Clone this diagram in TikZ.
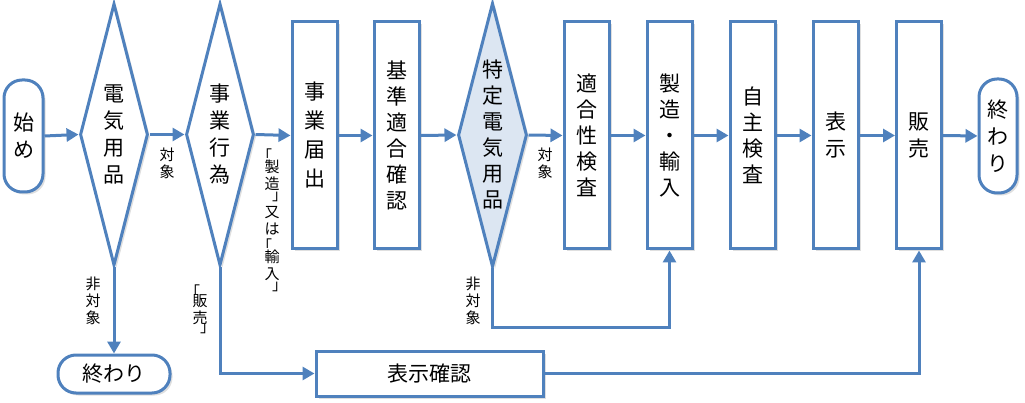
\documentclass[tikz,border=0pt]{standalone}
\usepackage{fontspec}
\usepackage{graphicx}
\setmainfont{Noto Sans CJK JP}
\usetikzlibrary{shapes.geometric,arrows.meta,shadows}
\definecolor{edge}{RGB}{79,129,189}
\definecolor{hl}{RGB}{220,230,242}
\newcommand\bro{\makebox[0pt][r]{「}}
\newcommand\brc{\makebox[0pt][l]{」}}
\newcommand\mainsz{\fontsize{21}{27}\selectfont}
\newcommand\lblsz{\fontsize{15}{17}\selectfont}
\begin{document}
\begin{tikzpicture}[x=1pt,y=-1pt,
  shd/.style={drop shadow={opacity=0.25,shadow xshift=2.5pt,shadow yshift=-2.5pt}},
  base/.style={draw=edge,line width=3pt,fill=white,shd,inner sep=0pt,align=center,font=\mainsz},
  stepbox/.style={base,rectangle,minimum width=45pt,minimum height=227pt},
  decide/.style={base,diamond,shape aspect=0.26,minimum width=68pt,minimum height=262pt},
  term/.style={base,rectangle,rounded corners=18pt},
  lbl/.style={inner sep=0pt,align=center,font=\lblsz},
  conn/.style={draw=edge,line width=3pt,-{Triangle[length=12pt,width=13pt]}}
]
\useasboundingbox (0,0) rectangle (1025,403);

\node[term,minimum width=39pt,minimum height=112pt] (start) at (23.5,136) {始\\め};
\node[decide] (q1) at (114,134.5) {電\\気\\用\\品};
\node[decide] (q2) at (220,134.5) {事\\業\\行\\為};
\node[stepbox,font=\fontsize{21}{29}\selectfont] (b1) at (314.5,135.5) {事\\業\\届\\出};
\node[stepbox,font=\fontsize{21}{26}\selectfont] (b2) at (396.5,135.5) {基\\準\\適\\合\\確\\認};
\node[decide,fill=hl,minimum width=69pt,minimum height=264pt,font=\fontsize{21}{26}\selectfont] (q3) at (492.5,135) {特\\定\\電\\気\\用\\品};
\node[stepbox,font=\fontsize{21}{26}\selectfont] (b3) at (586.5,135.5) {適\\合\\性\\検\\査};
\node[stepbox,font=\fontsize{21}{26}\selectfont] (b4) at (669.5,135.5) {製\\造\\・\\輸\\入};
\node[stepbox,font=\fontsize{21}{26}\selectfont] (b5) at (752.5,135.5) {自\\主\\検\\査};
\node[stepbox] (b6) at (835.5,135.5) {表\\示};
\node[stepbox] (b7) at (919,135.5) {販\\売};
\node[term,minimum width=38pt,minimum height=114pt] (end1) at (998,136) {終\\わ\\り};
\node[term,minimum width=112pt,minimum height=38pt] (end2) at (114,374) {終わり};
\node[base,rectangle,minimum width=227pt,minimum height=45pt] (b8) at (429.5,373.5) {表示確認};

\coordinate (c1) at (492.5,327);

\draw[conn] (start.east) -- (q1.west);
\draw[conn] (q1.east) -- (q2.west);
\draw[conn] (q2.east) -- (b1.west);
\draw[conn] (b1.east) -- (b2.west);
\draw[conn] (b2.east) -- (q3.west);
\draw[conn] (q3.east) -- (b3.west);
\draw[conn] (b3.east) -- (b4.west);
\draw[conn] (b4.east) -- (b5.west);
\draw[conn] (b5.east) -- (b6.west);
\draw[conn] (b6.east) -- (b7.west);
\draw[conn] (b7.east) -- (end1.west);
\draw[conn] (q1.south) -- (end2.north);
\draw[conn] (q2.south) |- (b8.west);
\draw[conn] (b8.east) -| (b7.south);
\draw[conn] (q3.south) -- (c1) -| (b4.south);

\node[lbl] (l1) at (167,163) {対\\象};
\node[lbl] (l2) at (93,301) {非\\対\\象};
\node[lbl] (l3) at (200,309) {\bro\\[-8pt]販\\売\\[-8pt]\brc};
\node[lbl] (l4) at (272,220) {\bro\\[-6pt]製\\造\\[-6pt]\brc\\又\\は\\\bro\\[-6pt]輸\\入\\[-6pt]\brc};
\node[lbl] (l5) at (545,163) {対\\象};
\node[lbl] (l6) at (473,301) {非\\対\\象};
\end{tikzpicture}
\end{document}
